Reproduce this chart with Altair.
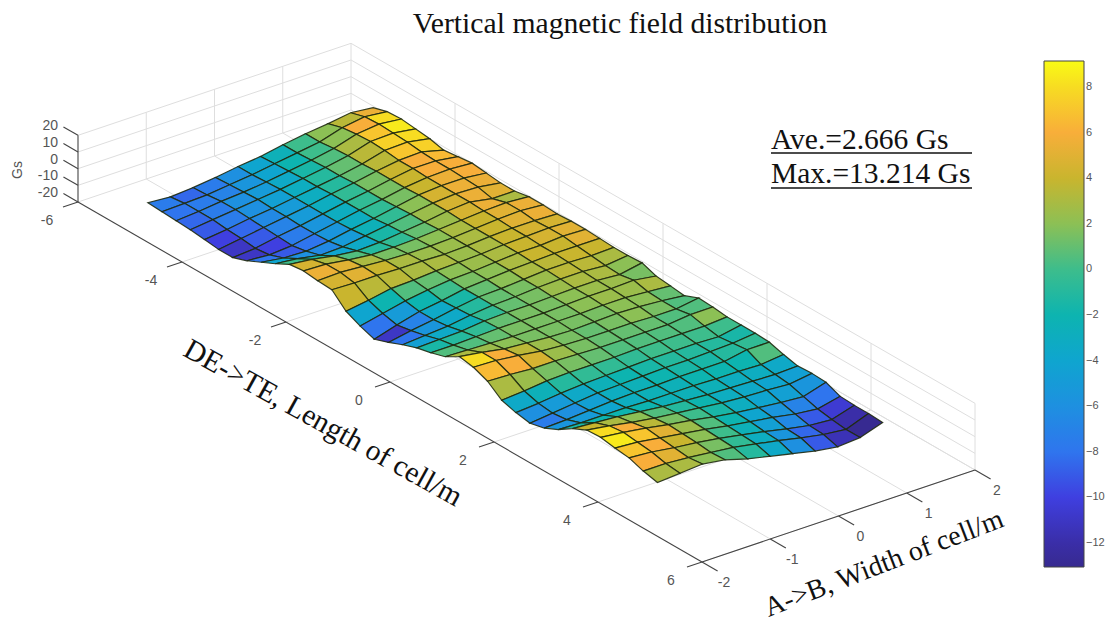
import altair as alt

# Surface readings (Gs): one list per DE->TE station, from A side (front) to B side (back)
Z_ROWS = [
    [-7.5,-8.5,-7.5,-6,-4,-2.5,0,2,3.5,5.5,4],
    [-8,-7.5,-7,-5.5,-4,-2,0,2,6,8,6.5],
    [-8.5,-7.5,-6,-5,-3.5,-1.5,0.5,3,7,8.5,7],
    [-9,-7.5,-6,-4.5,-3,-1,1,3.5,7.5,8,6],
    [-10,-8.5,-6.5,-5,-3,-1,1,3.5,7,7.5,5],
    [-11,-9,-7,-5,-3,-0.5,1.5,4,6,6.5,3],
    [-11,-10,-7.5,-5.5,-3,-0.5,1.5,4,6,6,4],
    [-8,-9,-8,-5.5,-3,-0.5,1.5,4,5.5,6,5],
    [-4,-6,-6.5,-5,-2.5,-0.5,2,4.5,5.5,5.5,4],
    [0,-1.5,-4,-3.5,-1.5,0.5,2.5,4.5,5.5,5,3],
    [4.5,3,0.5,-1,-0.5,1,2.5,4.5,5.5,3,3],
    [5.5,5,3,1.5,1.5,2,3,4,5,5.5,4.5],
    [4.5,5,4,3,2.5,2.5,3,4,5,5.5,4.5],
    [4,3.5,3.5,3,3,2.5,3,4,4.5,4.5,4],
    [-4,-2,0.5,1,2,2.5,3,4,4.5,5,4.5],
    [-8,-5,-2,0,1.5,2,3,4,4,5,4.5],
    [-11,-7,-3.5,-1.5,1,2,3,3.5,4,4,4],
    [-8,-5.5,-3.5,-1,1,1.5,2.5,3.5,3.5,3,3.5],
    [-4.5,-3.5,-2.5,-0.5,1,1.5,2.5,3,3,2,3.5],
    [-1.5,-1,-0.5,1,1.5,1.5,2,2.5,2.5,1.5,4],
    [0.5,0.5,1,1.5,1.5,1.5,2,2.5,2.5,3,1],
    [3,2.5,2,1.5,1.5,1.5,1.5,2,2,1,0],
    [8,6,3.5,2.5,1.5,1,1.5,2,1.5,0.5,-1],
    [6.5,6,4.5,2.5,1.5,1,1,1,0.5,0.5,2.5],
    [3,2.5,1.5,1.5,1,0.5,0.5,0.5,0.5,2,2],
    [-3.5,-2.5,-1,-0.5,-0.5,-0.5,0,0,0,0,1],
    [-6,-5,-3.5,-2.5,-2,-1.5,-1,-1,-1,-1.5,1],
    [-7.5,-6,-4.5,-3,-2.5,-2,-1.5,-1.5,-1,-0.5,1],
    [-5.5,-5,-4,-3,-2.5,-2.5,-2,-2,-2,0.5,0.5],
    [-1.5,-2,-2,-2,-2.5,-2.5,-2.5,-3,-3,-3.5,-2],
    [4,3,2,0.5,-1,-2,-3,-3.5,-4,-4.5,-4],
    [8,6,3.5,1.5,0,-1.5,-3,-4,-4.5,-5.5,-3.5],
    [8.5,7,5,2.5,0.5,-2,-4,-5.5,-7,-8,-4],
    [7,6,4,2,0,-2.5,-4.5,-6.5,-9,-10.5,-7.5],
    [6,5,3,1.5,-0.5,-3,-5.5,-8.5,-11,-12,-8],
    [3,3,2,0.5,-1,-3.5,-6,-9,-11.5,-13,-8],
    [1,2,3,1,-3,-6,-9,-12,-14,-13,-8.5],
]
Y_START, Y_STEP = -5.05, 0.2722
X_START, X_STEP = -1.70, 0.33

X_TICKS = [-2, -1, 0, 1, 2]
Y_TICKS = [-6, -4, -2, 0, 2, 4, 6]
Z_TICKS = [-20, -10, 0, 10, 20]
BAR_TICKS = [8, 6, 4, 2, 0, -2, -4, -6, -8, -10, -12]
COLOR_DOMAIN = [-13.05, -12, -10, -8, -6, -4, -2, 0, 2, 4, 6, 8, 9.14]
COLOR_RANGE = ["#372a90", "#3a2ea8", "#3f3fe0", "#2f75ee", "#1e90e0", "#0fa5cf", "#0db4b0",
               "#3dbd8c", "#8cc055", "#c9b52e", "#f8ae3a", "#f7dc22", "#f9fb15"]


def project(x, y, z):
    """Axonometric view of the MATLAB axes box onto the page."""
    return [78 + (y + 6) * 52 + (x + 2) * 68.25,
            202 + (y + 6) * 30 - (x + 2) * 23 - (z + 20) * 1.667]


def line(*pts):
    return {"type": "Feature", "properties": {},
            "geometry": {"type": "LineString", "coordinates": [project(*p) for p in pts]}}


def raw_line(a, b):
    return {"type": "Feature", "properties": {},
            "geometry": {"type": "LineString", "coordinates": [a, b]}}


# surface cells, back to front
cells = []
nr, nc = len(Z_ROWS), len(Z_ROWS[0])
for r in range(nr - 1):
    for c in range(nc - 2, -1, -1):
        ring = []
        for rr, cc in [(r, c), (r + 1, c), (r + 1, c + 1), (r, c + 1), (r, c)]:
            ring.append(project(X_START + cc * X_STEP, Y_START + rr * Y_STEP, Z_ROWS[rr][cc]))
        cells.append({"type": "Feature", "properties": {"z": Z_ROWS[r][c]},
                      "geometry": {"type": "Polygon", "coordinates": [ring]}})

# walls and floor grid
grid = []
for z in Z_TICKS:
    grid.append(line((-2, -6, z), (2, -6, z)))
    grid.append(line((2, -6, z), (2, 6, z)))
for x in X_TICKS[1:]:
    grid.append(line((x, -6, -20), (x, -6, 20)))
    grid.append(line((x, -6, -20), (x, 6, -20)))
for y in Y_TICKS[1:]:
    grid.append(line((2, y, -20), (2, y, 20)))
    grid.append(line((-2, y, -20), (2, y, -20)))

# axes with ticks
axes = [line((-2, -6, -20), (-2, 6, -20)), line((-2, 6, -20), (2, 6, -20)),
        line((-2, -6, -20), (-2, -6, 20))]
for y in Y_TICKS:
    axes.append(line((-2, y, -20), (-2.22, y, -20)))
for x in X_TICKS:
    axes.append(line((x, 6, -20), (x, 6.3, -20)))
for z in Z_TICKS:
    axes.append(line((-2, -6, z), (-2, -6.28, z)))

# colour bar ticks and the underlines of the note
def bar_y(v):
    return 87 + (8 - v) * 22.8

marks = [raw_line([1081, bar_y(v)], [1084, bar_y(v)]) for v in BAR_TICKS]
notes = [raw_line([771, 153], [972, 153]), raw_line([771, 188], [972, 188])]

PROJ = alt.Projection(type="identity", scale=1, translate=[-8, -8])


def shapes(features, **kw):
    return alt.Chart(alt.InlineData(values=features)).mark_geoshape(
        filled=False, **kw).project(**PROJ.to_dict())


def text_layer(rows, **kw):
    return alt.Chart(alt.InlineData(values=rows)).mark_text(**kw).encode(
        longitude="lon:Q", latitude="lat:Q", text="t:N").project(**PROJ.to_dict())


def labelled(values, at, dx, dy):
    rows = []
    for v in values:
        p = project(*at(v))
        rows.append({"lon": p[0] + dx, "lat": p[1] + dy, "t": str(v)})
    return rows


SANS = dict(font="Liberation Sans", fontSize=14, color="#555555")
SERIF = dict(font="Liberation Serif", color="#111111")

surface = alt.Chart(alt.InlineData(values=cells)).mark_geoshape(
    stroke="#1f2a10", strokeWidth=1.2, strokeOpacity=0.9
).encode(
    color=alt.Color("properties.z:Q",
                    scale=alt.Scale(domain=COLOR_DOMAIN, range=COLOR_RANGE, interpolate="rgb"),
                    legend=alt.Legend(
                        title=None, orient="none", legendX=1036, legendY=53, direction="vertical",
                        gradientLength=506, gradientThickness=40, values=BAR_TICKS,
                        gradientStrokeColor="#444444", gradientStrokeWidth=1,
                        labelFont="Liberation Sans", labelFontSize=11, labelColor="#555555",
                        labelOffset=2, labelOverlap=False)),
).project(**PROJ.to_dict())

chart = alt.layer(
    shapes(grid, stroke="#dedede", strokeWidth=1),
    shapes(axes, stroke="#444444", strokeWidth=1.1),
    surface,
    shapes(marks, stroke="#444444", strokeWidth=1),
    shapes(notes, stroke="#111111", strokeWidth=1.5),
    text_layer(labelled(Y_TICKS, lambda v: (-2, v, -20), -31, 19), align="center", baseline="middle", **SANS),
    text_layer(labelled(X_TICKS, lambda v: (v, 6, -20), 22, 21), align="center", baseline="middle", **SANS),
    text_layer(labelled(Z_TICKS, lambda v: (-2, -6, v), -20, -9), align="right", baseline="middle", **SANS),
    text_layer([{"lon": 18, "lat": 170, "t": "Gs"}], align="center", baseline="middle", angle=270, **SANS),
    text_layer([{"lon": 620, "lat": 24, "t": "Vertical magnetic field distribution"}],
               align="center", baseline="middle", fontSize=29.7, **SERIF),
    text_layer([{"lon": 771, "lat": 140, "t": "Ave.=2.666 Gs"}],
               align="left", baseline="middle", fontSize=29.5, **SERIF),
    text_layer([{"lon": 771, "lat": 174, "t": "Max.=13.214 Gs"}],
               align="left", baseline="middle", fontSize=29.5, **SERIF),
    text_layer([{"lon": 323, "lat": 423, "t": "DE->TE, Length of cell/m"}],
               align="center", baseline="middle", fontSize=29.5, angle=29, **SERIF),
    text_layer([{"lon": 884, "lat": 564, "t": "A->B, Width of cell/m"}],
               align="center", baseline="middle", fontSize=28, angle=339, **SERIF),
).properties(width=1097, height=616, padding=0, autosize="none"
).configure_view(stroke=None)

chart.save("out.html", embed_options={"renderer": "svg", "actions": False})
